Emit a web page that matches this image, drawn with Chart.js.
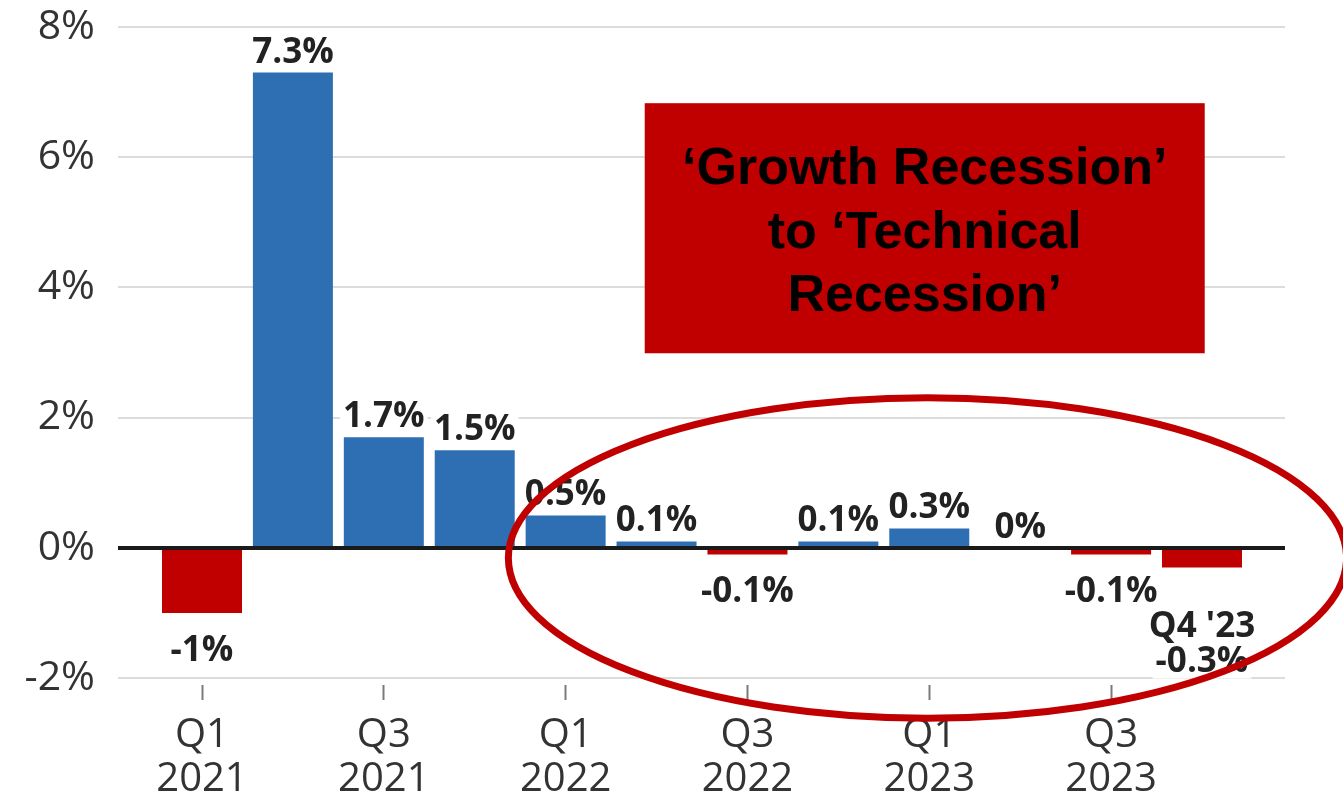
<!DOCTYPE html>
<html>
<head>
<meta charset="utf-8">
<title>Quarterly GDP growth</title>
<script src="https://cdn.jsdelivr.net/npm/chart.js@4.4.1/dist/chart.umd.min.js"></script>
<style>
  html, body { margin: 0; padding: 0; background: #ffffff; }
  #wrap { width: 1343px; height: 801px; position: relative; }
</style>
</head>
<body>
<div id="wrap"><canvas id="gdp"></canvas></div>
<script>
// Quarter-on-quarter GDP growth, %
const quarters = ['Q1 2021', 'Q2 2021', 'Q3 2021', 'Q4 2021',
                  'Q1 2022', 'Q2 2022', 'Q3 2022', 'Q4 2022',
                  'Q1 2023', 'Q2 2023', 'Q3 2023', 'Q4 2023'];
const gdpGrowth = [-1, 7.3, 1.7, 1.5, 0.5, 0.1, -0.1, 0.1, 0.3, 0, -0.1, -0.3];
// Extra line printed above a bar's value label
const barNotes = ['', '', '', '', '', '', '', '', '', '', '', "Q4 '23"];
// Quarters that get an x-axis label (every other one)
const xTickQuarters = [0, 2, 4, 6, 8, 10];
const yTickValues = [-2, 0, 2, 4, 6, 8];
const calloutLines = ['\u2018Growth Recession\u2019', 'to \u2018Technical', 'Recession\u2019'];

const BLUE = '#2e6fb4';
const RED = '#c00000';
const FONT = "'Open Sans', 'Noto Sans', sans-serif";

const valueLabels = {
  id: 'valueLabels',
  afterDatasetsDraw(chart) {
    const { ctx, chartArea, scales } = chart;
    const y0 = scales.y.getPixelForValue(0);
    ctx.save();
    // zero baseline over the bars
    ctx.strokeStyle = '#1a1a1a';
    ctx.lineWidth = 4;
    ctx.beginPath();
    ctx.moveTo(chartArea.left, y0);
    ctx.lineTo(chartArea.right, y0);
    ctx.stroke();

    ctx.font = 'bold 35px ' + FONT;
    ctx.textAlign = 'center';
    ctx.textBaseline = 'alphabetic';
    const meta = chart.getDatasetMeta(0);
    meta.data.forEach((bar, i) => {
      const v = gdpGrowth[i];
      const p = bar.getProps(['x', 'y', 'base'], true);
      const lines = [];
      if (barNotes[i]) lines.push(barNotes[i]);
      lines.push(v + '%');
      let firstBase;
      if (v >= 0) {
        firstBase = Math.min(p.y, p.base) - 10 - (lines.length - 1) * 35;
      } else {
        firstBase = Math.max(p.y, p.base) + 48 + (lines.length - 1) * 21;
      }
      lines.forEach((t, k) => {
        const b = firstBase + k * 35;
        const w = ctx.measureText(t).width;
        ctx.fillStyle = '#ffffff';
        ctx.fillRect(p.x - w / 2 - 3, b - 29, w + 6, 36);
      });
      ctx.fillStyle = '#222222';
      lines.forEach((t, k) => ctx.fillText(t, p.x, firstBase + k * 35));
    });
    ctx.restore();
  }
};

// Red callout box and the ring around the recent quarters, placed in axis units
const callout = { xFrom: 4.87, xTo: 11.03, yFrom: 6.83, yTo: 2.99 };
const ring = { x: 7.98, y: -0.154, rx: 4.61, ry: 2.46 };

const annotations = {
  id: 'annotations',
  afterDraw(chart) {
    const { ctx, scales } = chart;
    const xs = scales.x, ys = scales.y;
    ctx.save();
    const left = xs.getPixelForValue(callout.xFrom);
    const right = xs.getPixelForValue(callout.xTo);
    const top = ys.getPixelForValue(callout.yFrom);
    const bottom = ys.getPixelForValue(callout.yTo);
    ctx.fillStyle = RED;
    ctx.fillRect(left, top, right - left, bottom - top);
    ctx.fillStyle = '#000000';
    ctx.font = "bold 52px 'Liberation Sans', Arial, sans-serif";
    ctx.textAlign = 'center';
    ctx.textBaseline = 'alphabetic';
    const cx = (left + right) / 2, cy = (top + bottom) / 2;
    calloutLines.forEach((t, k) => {
      ctx.fillText(t, cx, cy + (k - 1) * 63.5 + 19.5);
    });

    const ex = xs.getPixelForValue(ring.x);
    const ey = ys.getPixelForValue(ring.y);
    const erx = xs.getPixelForValue(ring.x + ring.rx) - ex;
    const ery = ys.getPixelForValue(ring.y - ring.ry) - ey;
    ctx.strokeStyle = RED;
    ctx.lineWidth = 7;
    ctx.beginPath();
    ctx.ellipse(ex, ey, erx, ery, 0, 0, Math.PI * 2);
    ctx.stroke();
    ctx.restore();
  }
};

new Chart(document.getElementById('gdp'), {
  type: 'bar',
  data: {
    datasets: [{
      data: gdpGrowth.map((v, i) => ({ x: i, y: v })),
      backgroundColor: gdpGrowth.map(v => (v < 0 ? RED : BLUE)),
      borderWidth: 0,
      categoryPercentage: 1,
      barPercentage: 0.88
    }]
  },
  options: {
    responsive: true,
    maintainAspectRatio: false,
    devicePixelRatio: 1,
    animation: false,
    layout: { padding: { left: 0, right: 58, top: 27, bottom: 0 } },
    plugins: { legend: { display: false }, tooltip: { enabled: false } },
    scales: {
      x: {
        type: 'linear',
        offset: false,
        min: -0.924,
        max: 11.913,
        afterBuildTicks: s => { s.ticks = xTickQuarters.map(v => ({ value: v })); },
        afterFit: s => { s.height = 116; },
        border: { display: false },
        grid: {
          offset: false,
          drawOnChartArea: false,
          drawTicks: true,
          tickLength: 15,
          tickColor: '#7a7a7a',
          tickWidth: 2
        },
        ticks: {
          autoSkip: false,
          maxRotation: 0,
          padding: 14,
          color: '#333333',
          font: { family: FONT, size: 40, lineHeight: 1.1 },
          callback: v => quarters[v].split(' ')
        }
      },
      y: {
        min: -2.104,
        max: 8,
        afterBuildTicks: s => { s.ticks = yTickValues.map(v => ({ value: v })); },
        afterFit: s => { s.width = 118; s.paddingTop = 0; s.paddingBottom = 0; },
        border: { display: false },
        grid: {
          drawTicks: false,
          color: '#dcdcdc',
          lineWidth: 2
        },
        ticks: {
          padding: 23,
          color: '#333333',
          font: { family: FONT, size: 41 },
          callback: v => v + '%'
        }
      }
    }
  },
  plugins: [valueLabels, annotations]
});
</script>
</body>
</html>
